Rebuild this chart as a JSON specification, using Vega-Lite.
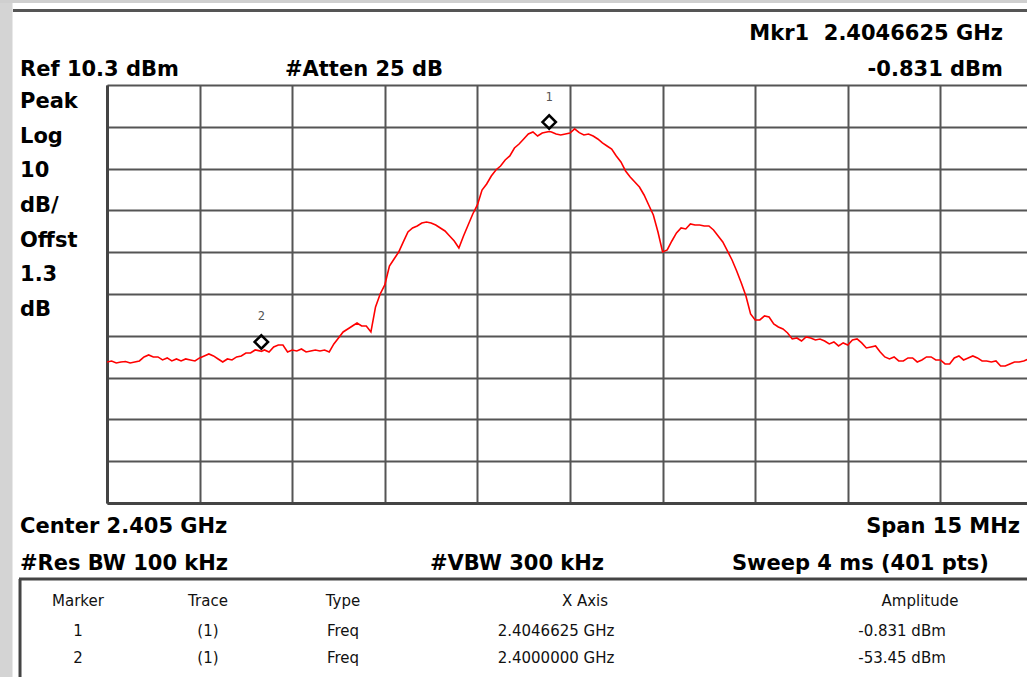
{
  "$schema": "https://vega.github.io/schema/vega-lite/v6.json",
  "autosize": "none",
  "width": 920,
  "height": 418,
  "padding": {"left": 107, "top": 85, "right": 0, "bottom": 174},
  "background": "#ffffff",
  "data": {"values": [{}]},
  "config": {
    "view": {"stroke": null},
    "axis": {"gridColor": "#555555", "gridWidth": 2, "gridOpacity": 1, "domainColor": "#444444", "domainWidth": 3, "labels": false, "ticks": false, "title": null}
  },
  "datasets": {
    "trace": [
      {"f":2397.500,"dbm":-55.96},{"f":2397.575,"dbm":-55.72},{"f":2397.650,"dbm":-56.20},{"f":2397.725,"dbm":-55.96},
      {"f":2397.800,"dbm":-55.84},{"f":2397.875,"dbm":-56.20},{"f":2397.950,"dbm":-55.96},{"f":2398.025,"dbm":-55.72},
      {"f":2398.100,"dbm":-54.76},{"f":2398.175,"dbm":-54.28},{"f":2398.250,"dbm":-54.76},{"f":2398.325,"dbm":-54.76},
      {"f":2398.400,"dbm":-55.48},{"f":2398.475,"dbm":-55.00},{"f":2398.550,"dbm":-55.72},{"f":2398.625,"dbm":-55.24},
      {"f":2398.700,"dbm":-55.72},{"f":2398.775,"dbm":-55.24},{"f":2398.850,"dbm":-55.48},{"f":2398.925,"dbm":-55.72},
      {"f":2399.000,"dbm":-55.00},{"f":2399.075,"dbm":-54.52},{"f":2399.150,"dbm":-54.05},{"f":2399.225,"dbm":-54.52},
      {"f":2399.300,"dbm":-55.24},{"f":2399.375,"dbm":-55.96},{"f":2399.450,"dbm":-55.24},{"f":2399.525,"dbm":-55.48},
      {"f":2399.600,"dbm":-54.76},{"f":2399.675,"dbm":-54.52},{"f":2399.750,"dbm":-53.81},{"f":2399.825,"dbm":-53.81},
      {"f":2399.900,"dbm":-53.09},{"f":2399.975,"dbm":-53.30},{"f":2400.000,"dbm":-53.45},{"f":2400.050,"dbm":-53.09},
      {"f":2400.125,"dbm":-53.57},{"f":2400.200,"dbm":-52.37},{"f":2400.275,"dbm":-51.89},{"f":2400.350,"dbm":-51.89},
      {"f":2400.425,"dbm":-53.57},{"f":2400.500,"dbm":-53.09},{"f":2400.575,"dbm":-53.33},{"f":2400.650,"dbm":-52.85},
      {"f":2400.725,"dbm":-53.57},{"f":2400.800,"dbm":-53.33},{"f":2400.875,"dbm":-53.09},{"f":2400.950,"dbm":-53.33},
      {"f":2401.025,"dbm":-53.09},{"f":2401.100,"dbm":-53.57},{"f":2401.175,"dbm":-51.65},{"f":2401.250,"dbm":-50.22},
      {"f":2401.325,"dbm":-48.78},{"f":2401.400,"dbm":-48.07},{"f":2401.475,"dbm":-47.35},{"f":2401.550,"dbm":-46.63},
      {"f":2401.625,"dbm":-47.35},{"f":2401.700,"dbm":-47.35},{"f":2401.775,"dbm":-48.78},{"f":2401.850,"dbm":-42.80},
      {"f":2401.925,"dbm":-39.69},{"f":2402.000,"dbm":-37.54},{"f":2402.075,"dbm":-32.99},{"f":2402.150,"dbm":-31.32},
      {"f":2402.225,"dbm":-29.65},{"f":2402.300,"dbm":-27.25},{"f":2402.375,"dbm":-24.86},{"f":2402.450,"dbm":-23.91},
      {"f":2402.525,"dbm":-23.43},{"f":2402.600,"dbm":-22.71},{"f":2402.675,"dbm":-22.47},{"f":2402.750,"dbm":-22.71},
      {"f":2402.825,"dbm":-23.19},{"f":2402.900,"dbm":-23.91},{"f":2402.975,"dbm":-24.62},{"f":2403.050,"dbm":-25.82},
      {"f":2403.125,"dbm":-27.02},{"f":2403.200,"dbm":-28.69},{"f":2403.275,"dbm":-25.82},{"f":2403.350,"dbm":-23.19},
      {"f":2403.425,"dbm":-20.56},{"f":2403.500,"dbm":-18.40},{"f":2403.575,"dbm":-14.82},{"f":2403.650,"dbm":-13.38},
      {"f":2403.725,"dbm":-11.47},{"f":2403.800,"dbm":-10.03},{"f":2403.875,"dbm":-9.08},{"f":2403.950,"dbm":-7.64},
      {"f":2404.025,"dbm":-6.68},{"f":2404.100,"dbm":-4.77},{"f":2404.175,"dbm":-3.81},{"f":2404.250,"dbm":-2.62},
      {"f":2404.325,"dbm":-1.42},{"f":2404.400,"dbm":-0.94},{"f":2404.475,"dbm":-1.90},{"f":2404.550,"dbm":-1.18},
      {"f":2404.625,"dbm":-0.95},{"f":2404.6625,"dbm":-0.831},{"f":2404.700,"dbm":-0.94},{"f":2404.775,"dbm":-1.42},
      {"f":2404.850,"dbm":-1.66},{"f":2404.925,"dbm":-1.42},{"f":2405.000,"dbm":-1.18},{"f":2405.075,"dbm":-0.20},
      {"f":2405.150,"dbm":-1.10},{"f":2405.225,"dbm":-1.66},{"f":2405.300,"dbm":-1.42},{"f":2405.375,"dbm":-1.90},
      {"f":2405.450,"dbm":-2.62},{"f":2405.525,"dbm":-3.57},{"f":2405.600,"dbm":-4.29},{"f":2405.675,"dbm":-5.01},
      {"f":2405.750,"dbm":-6.68},{"f":2405.825,"dbm":-8.12},{"f":2405.900,"dbm":-10.27},{"f":2405.975,"dbm":-11.71},
      {"f":2406.050,"dbm":-12.90},{"f":2406.125,"dbm":-14.10},{"f":2406.200,"dbm":-16.01},{"f":2406.275,"dbm":-18.40},
      {"f":2406.350,"dbm":-20.80},{"f":2406.425,"dbm":-24.86},{"f":2406.500,"dbm":-29.65},{"f":2406.575,"dbm":-29.17},
      {"f":2406.650,"dbm":-27.02},{"f":2406.725,"dbm":-25.10},{"f":2406.800,"dbm":-23.91},{"f":2406.875,"dbm":-24.14},
      {"f":2406.950,"dbm":-22.95},{"f":2407.025,"dbm":-23.19},{"f":2407.100,"dbm":-23.19},{"f":2407.175,"dbm":-23.43},
      {"f":2407.250,"dbm":-23.43},{"f":2407.325,"dbm":-24.38},{"f":2407.400,"dbm":-25.82},{"f":2407.475,"dbm":-27.25},
      {"f":2407.550,"dbm":-29.41},{"f":2407.625,"dbm":-31.56},{"f":2407.700,"dbm":-34.19},{"f":2407.775,"dbm":-37.06},
      {"f":2407.850,"dbm":-40.17},{"f":2407.925,"dbm":-44.48},{"f":2408.000,"dbm":-45.91},{"f":2408.075,"dbm":-45.91},
      {"f":2408.150,"dbm":-44.96},{"f":2408.225,"dbm":-45.20},{"f":2408.300,"dbm":-46.87},{"f":2408.375,"dbm":-47.59},
      {"f":2408.450,"dbm":-48.07},{"f":2408.525,"dbm":-49.02},{"f":2408.600,"dbm":-50.46},{"f":2408.675,"dbm":-50.22},
      {"f":2408.750,"dbm":-50.94},{"f":2408.825,"dbm":-49.98},{"f":2408.900,"dbm":-50.22},{"f":2408.975,"dbm":-50.70},
      {"f":2409.050,"dbm":-50.46},{"f":2409.125,"dbm":-50.94},{"f":2409.200,"dbm":-51.65},{"f":2409.275,"dbm":-51.17},
      {"f":2409.350,"dbm":-52.13},{"f":2409.425,"dbm":-51.41},{"f":2409.500,"dbm":-51.89},{"f":2409.575,"dbm":-50.70},
      {"f":2409.650,"dbm":-50.46},{"f":2409.725,"dbm":-51.41},{"f":2409.800,"dbm":-52.61},{"f":2409.875,"dbm":-52.37},
      {"f":2409.950,"dbm":-52.13},{"f":2410.025,"dbm":-53.57},{"f":2410.100,"dbm":-54.76},{"f":2410.175,"dbm":-55.24},
      {"f":2410.250,"dbm":-54.76},{"f":2410.325,"dbm":-55.72},{"f":2410.400,"dbm":-55.72},{"f":2410.475,"dbm":-55.00},
      {"f":2410.550,"dbm":-55.00},{"f":2410.625,"dbm":-55.96},{"f":2410.700,"dbm":-55.48},{"f":2410.775,"dbm":-54.76},
      {"f":2410.850,"dbm":-54.76},{"f":2410.925,"dbm":-55.48},{"f":2411.000,"dbm":-55.48},{"f":2411.075,"dbm":-56.44},
      {"f":2411.150,"dbm":-56.44},{"f":2411.225,"dbm":-55.00},{"f":2411.300,"dbm":-54.52},{"f":2411.375,"dbm":-55.48},
      {"f":2411.450,"dbm":-55.00},{"f":2411.525,"dbm":-54.52},{"f":2411.600,"dbm":-55.00},{"f":2411.675,"dbm":-55.72},
      {"f":2411.750,"dbm":-55.72},{"f":2411.825,"dbm":-55.96},{"f":2411.900,"dbm":-55.72},{"f":2411.975,"dbm":-56.92},
      {"f":2412.050,"dbm":-56.92},{"f":2412.125,"dbm":-56.44},{"f":2412.200,"dbm":-55.96},{"f":2412.275,"dbm":-55.96},
      {"f":2412.350,"dbm":-55.72},{"f":2412.425,"dbm":-55.24},{"f":2412.500,"dbm":-55.48}
    ],
    "markers": [
      {"marker": "1", "f": 2404.6625, "dbm": -0.831},
      {"marker": "2", "f": 2400.0, "dbm": -53.45}
    ]
  },
  "layer": [
    {
      "data": {"name": "trace"},
      "mark": {"type": "line", "color": "#ff0000", "strokeWidth": 1.6, "clip": true, "interpolate": "linear"},
      "encoding": {
        "x": {"field": "f", "type": "quantitative",
              "scale": {"domain": [2397.5, 2412.4028], "nice": false, "zero": false},
              "axis": {"orient": "bottom", "values": [2397.5, 2399, 2400.5, 2402, 2403.5, 2405, 2406.5, 2408, 2409.5, 2411]}},
        "y": {"field": "dbm", "type": "quantitative",
              "scale": {"domain": [-89.7, 10.3], "nice": false, "zero": false},
              "axis": {"orient": "left", "values": [10.3, 0.3, -9.7, -19.7, -29.7, -39.7, -49.7, -59.7, -69.7, -79.7, -89.7]}}
      }
    },
    {
      "data": {"name": "markers"},
      "mark": {"type": "point", "shape": "diamond", "filled": false, "stroke": "#000000", "strokeWidth": 2.5, "size": 180, "yOffset": -9.5, "opacity": 1},
      "encoding": {"x": {"field": "f", "type": "quantitative"}, "y": {"field": "dbm", "type": "quantitative"}}
    },
    {
      "data": {"name": "markers"},
      "mark": {"type": "text", "font": "DejaVu Sans Mono", "fontSize": 12, "color": "#555555", "dy": -35, "baseline": "middle", "align": "center"},
      "encoding": {"x": {"field": "f", "type": "quantitative"}, "y": {"field": "dbm", "type": "quantitative"}, "text": {"field": "marker"}}
    },
    {"mark": {"type": "rule", "color": "#d4d4d4", "strokeWidth": 13}, "encoding": {"x": {"datum": 2395.864}, "y": {"datum": 30.63}, "y2": {"datum": -131.33}}},
    {"mark": {"type": "rule", "color": "#cfcfcf", "strokeWidth": 3}, "encoding": {"y": {"datum": 30.28}, "x": {"datum": 2395.767}, "x2": {"datum": 2412.4028}}},
    {"mark": {"type": "rule", "color": "#555555", "strokeWidth": 3}, "encoding": {"y": {"datum": 28.12}, "x": {"datum": 2395.977}, "x2": {"datum": 2412.4028}}},
    {"mark": {"type": "rule", "color": "#444444", "strokeWidth": 3}, "encoding": {"y": {"datum": -107.88}, "x": {"datum": 2396.0745}, "x2": {"datum": 2412.4028}}},
    {"mark": {"type": "rule", "color": "#444444", "strokeWidth": 3}, "encoding": {"x": {"datum": 2396.091}, "y": {"datum": -107.88}, "y2": {"datum": -131.33}}},
    {"mark": {"type": "text", "text": "Mkr1\u00a0 2.4046625 GHz", "align": "right", "baseline": "alphabetic", "font": "DejaVu Sans", "fontWeight": "bold", "fontSize": 21, "color": "#000000"},
     "encoding": {"x": {"datum": 2412.014}, "y": {"datum": 21.07}}},
    {"mark": {"type": "text", "text": "-0.831 dBm", "align": "right", "baseline": "alphabetic", "font": "DejaVu Sans", "fontWeight": "bold", "fontSize": 21, "color": "#000000"},
     "encoding": {"x": {"datum": 2412.014}, "y": {"datum": 12.45}}},
    {"mark": {"type": "text", "text": "Ref 10.3 dBm", "align": "left", "baseline": "alphabetic", "font": "DejaVu Sans", "fontWeight": "bold", "fontSize": 21, "color": "#000000"},
     "encoding": {"x": {"datum": 2396.091}, "y": {"datum": 12.45}}},
    {"mark": {"type": "text", "text": "#Atten 25 dB", "align": "left", "baseline": "alphabetic", "font": "DejaVu Sans", "fontWeight": "bold", "fontSize": 21, "color": "#000000"},
     "encoding": {"x": {"datum": 2400.383}, "y": {"datum": 12.45}}},
    {"mark": {"type": "text", "text": ["Peak", "Log", "10", "dB/", "Offst", "1.3", "dB"], "lineHeight": 34.7, "align": "left", "baseline": "alphabetic", "font": "DejaVu Sans", "fontWeight": "bold", "fontSize": 21, "color": "#000000"},
     "encoding": {"x": {"datum": 2396.091}, "y": {"datum": 4.80}}},
    {"mark": {"type": "text", "text": "Center 2.405 GHz", "align": "left", "baseline": "alphabetic", "font": "DejaVu Sans", "fontWeight": "bold", "fontSize": 21, "color": "#000000"},
     "encoding": {"x": {"datum": 2396.091}, "y": {"datum": -96.88}}},
    {"mark": {"type": "text", "text": "Span 15 MHz", "align": "right", "baseline": "alphabetic", "font": "DejaVu Sans", "fontWeight": "bold", "fontSize": 21, "color": "#000000"},
     "encoding": {"x": {"datum": 2412.29}, "y": {"datum": -96.88}}},
    {"mark": {"type": "text", "text": "#Res BW 100 kHz", "align": "left", "baseline": "alphabetic", "font": "DejaVu Sans", "fontWeight": "bold", "fontSize": 21, "color": "#000000"},
     "encoding": {"x": {"datum": 2396.091}, "y": {"datum": -105.73}}},
    {"mark": {"type": "text", "text": "#VBW 300 kHz", "align": "left", "baseline": "alphabetic", "font": "DejaVu Sans", "fontWeight": "bold", "fontSize": 21, "color": "#000000"},
     "encoding": {"x": {"datum": 2402.732}, "y": {"datum": -105.73}}},
    {"mark": {"type": "text", "text": "Sweep 4 ms (401 pts)", "align": "left", "baseline": "alphabetic", "font": "DejaVu Sans", "fontWeight": "bold", "fontSize": 21, "color": "#000000"},
     "encoding": {"x": {"datum": 2407.624}, "y": {"datum": -105.73}}},
    {"mark": {"type": "text", "text": "Marker", "align": "center", "baseline": "alphabetic", "font": "DejaVu Sans", "fontSize": 15, "color": "#111111"},
     "encoding": {"x": {"datum": 2397.03}, "y": {"datum": -114.34}}},
    {"mark": {"type": "text", "text": "Trace", "align": "center", "baseline": "alphabetic", "font": "DejaVu Sans", "fontSize": 15, "color": "#111111"},
     "encoding": {"x": {"datum": 2399.136}, "y": {"datum": -114.34}}},
    {"mark": {"type": "text", "text": "Type", "align": "center", "baseline": "alphabetic", "font": "DejaVu Sans", "fontSize": 15, "color": "#111111"},
     "encoding": {"x": {"datum": 2401.323}, "y": {"datum": -114.34}}},
    {"mark": {"type": "text", "text": "X Axis", "align": "center", "baseline": "alphabetic", "font": "DejaVu Sans", "fontSize": 15, "color": "#111111"},
     "encoding": {"x": {"datum": 2405.243}, "y": {"datum": -114.34}}},
    {"mark": {"type": "text", "text": "Amplitude", "align": "center", "baseline": "alphabetic", "font": "DejaVu Sans", "fontSize": 15, "color": "#111111"},
     "encoding": {"x": {"datum": 2410.67}, "y": {"datum": -114.34}}},
    {"mark": {"type": "text", "text": ["1", "2"], "lineHeight": 27, "align": "center", "baseline": "alphabetic", "font": "DejaVu Sans", "fontSize": 15, "color": "#111111"},
     "encoding": {"x": {"datum": 2397.03}, "y": {"datum": -121.52}}},
    {"mark": {"type": "text", "text": ["(1)", "(1)"], "lineHeight": 27, "align": "center", "baseline": "alphabetic", "font": "DejaVu Sans", "fontSize": 15, "color": "#111111"},
     "encoding": {"x": {"datum": 2399.136}, "y": {"datum": -121.52}}},
    {"mark": {"type": "text", "text": ["Freq", "Freq"], "lineHeight": 27, "align": "center", "baseline": "alphabetic", "font": "DejaVu Sans", "fontSize": 15, "color": "#111111"},
     "encoding": {"x": {"datum": 2401.323}, "y": {"datum": -121.52}}},
    {"mark": {"type": "text", "text": ["2.4046625 GHz", "2.4000000 GHz"], "lineHeight": 27, "align": "center", "baseline": "alphabetic", "font": "DejaVu Sans", "fontSize": 15, "color": "#111111"},
     "encoding": {"x": {"datum": 2404.773}, "y": {"datum": -121.52}}},
    {"mark": {"type": "text", "text": ["-0.831 dBm", "-53.45 dBm"], "lineHeight": 27, "align": "center", "baseline": "alphabetic", "font": "DejaVu Sans", "fontSize": 15, "color": "#111111"},
     "encoding": {"x": {"datum": 2410.378}, "y": {"datum": -121.52}}}
  ]
}
